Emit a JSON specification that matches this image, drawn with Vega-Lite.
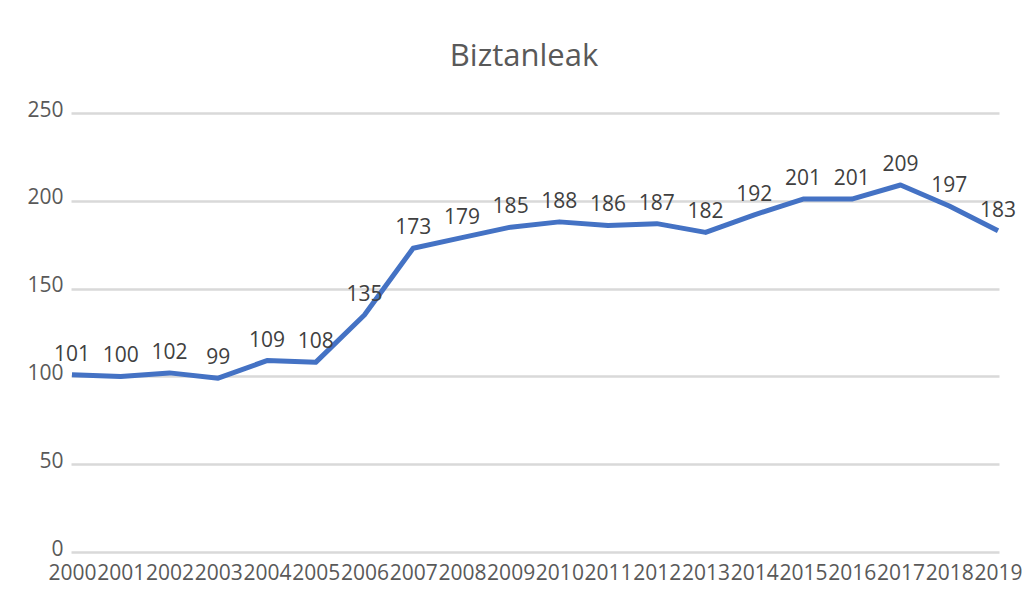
{
  "$schema": "https://vega.github.io/schema/vega-lite/v6.json",
  "autosize": {"type": "none"},
  "width": 928,
  "height": 439,
  "padding": {"left": 71, "top": 113, "right": 37, "bottom": 38},
  "background": "white",
  "config": {
    "view": {"stroke": null},
    "font": "Open Sans"
  },
  "title": {
    "text": "Biztanleak",
    "fontSize": 31,
    "fontWeight": "normal",
    "color": "#595959",
    "font": "Open Sans",
    "anchor": "middle",
    "dx": -11,
    "offset": 26
  },
  "data": {
    "values": [
      {"year": "2000", "value": 101},
      {"year": "2001", "value": 100},
      {"year": "2002", "value": 102},
      {"year": "2003", "value": 99},
      {"year": "2004", "value": 109},
      {"year": "2005", "value": 108},
      {"year": "2006", "value": 135},
      {"year": "2007", "value": 173},
      {"year": "2008", "value": 179},
      {"year": "2009", "value": 185},
      {"year": "2010", "value": 188},
      {"year": "2011", "value": 186},
      {"year": "2012", "value": 187},
      {"year": "2013", "value": 182},
      {"year": "2014", "value": 192},
      {"year": "2015", "value": 201},
      {"year": "2016", "value": 201},
      {"year": "2017", "value": 209},
      {"year": "2018", "value": 197},
      {"year": "2019", "value": 183}
    ]
  },
  "encoding": {
    "x": {
      "field": "year",
      "type": "ordinal",
      "scale": {"type": "point", "padding": 0.02},
      "axis": {
        "title": null,
        "labelAngle": 0,
        "labelFontSize": 21,
        "labelColor": "#595959",
        "labelOverlap": false,
        "labelPadding": 10,
        "ticks": false,
        "domain": false,
        "grid": false
      }
    },
    "y": {
      "field": "value",
      "type": "quantitative",
      "scale": {"domain": [0, 250], "nice": false},
      "axis": {
        "title": null,
        "values": [0, 50, 100, 150, 200, 250],
        "labelFontSize": 21,
        "labelColor": "#595959",
        "labelPadding": 8,
        "labelOffset": -3,
        "ticks": false,
        "domain": false,
        "grid": true,
        "gridColor": "#d9d9d9",
        "gridWidth": 2.5
      }
    }
  },
  "layer": [
    {
      "mark": {"type": "line", "color": "#4472C4", "strokeWidth": 5, "strokeJoin": "round"}
    },
    {
      "mark": {"type": "text", "fontSize": 21, "color": "#404040", "baseline": "alphabetic", "dy": -14},
      "encoding": {"text": {"field": "value", "type": "quantitative"}}
    }
  ]
}
